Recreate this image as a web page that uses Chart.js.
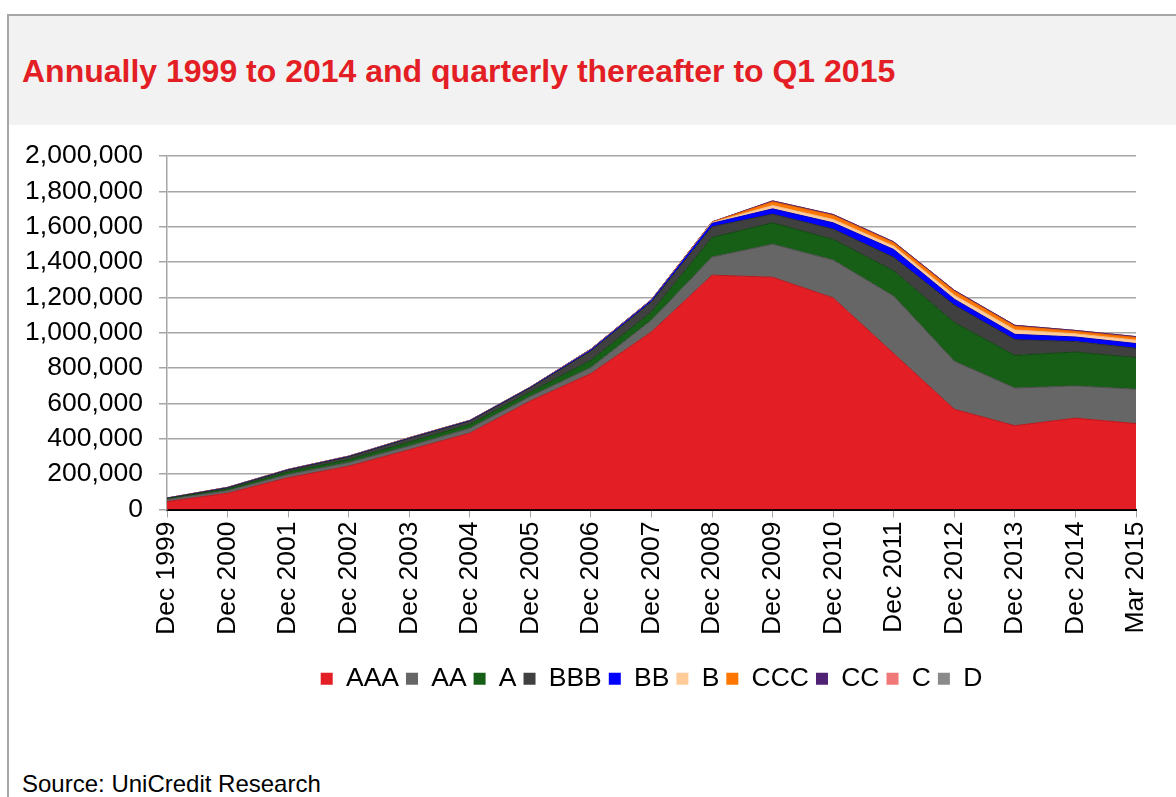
<!DOCTYPE html>
<html>
<head>
<meta charset="utf-8">
<script src="https://cdn.jsdelivr.net/npm/chart.js@4.4.1/dist/chart.umd.min.js"></script>
<style>
  body { margin: 0; background: #fff; font-family: Arial, "Liberation Sans", sans-serif; overflow: hidden; }
  #frame { position: absolute; left: 7px; top: 14px; width: 1200px; height: 820px; border: 2px solid #a6a6a6; }
  #header { position: absolute; left: 9px; top: 16px; width: 1200px; height: 109px; background: #f2f2f2; }
  #title { position: absolute; left: 22px; top: 53px; line-height: 36px; font-size: 32px; font-weight: bold; color: #e31e24; white-space: nowrap; }
  #source { position: absolute; left: 22px; top: 772px; line-height: 24px; font-size: 24px; color: #000; white-space: nowrap; }
  #chart { position: absolute; left: 0; top: 0; }
</style>
</head>
<body>
<div id="frame"></div>
<div id="header"></div>
<div id="title">Annually 1999 to 2014 and quarterly thereafter to Q1 2015</div>
<div id="source">Source: UniCredit Research</div>
<canvas id="chart" width="1176" height="797"></canvas>
<script>
// Chart.js - stacked area, outstanding volume by rating
const labels = ['Dec 1999', 'Dec 2000', 'Dec 2001', 'Dec 2002', 'Dec 2003',
                'Dec 2004', 'Dec 2005', 'Dec 2006', 'Dec 2007', 'Dec 2008',
                'Dec 2009', 'Dec 2010', 'Dec 2011', 'Dec 2012', 'Dec 2013',
                'Dec 2014', 'Mar 2015'];

const aaa = [45000, 92000, 180000, 245000, 338000, 432000, 614000, 769000, 1005000,
             1326000, 1314000, 1197000, 882000, 567000, 474000, 517000, 486000];
const aa  = [12000, 14000, 18000, 21000, 21000, 27000, 26000, 34000, 66000,
             102000, 187000, 214000, 325000, 272000, 213000, 182000, 194000];
const a   = [4000, 9000, 15000, 16000, 22000, 23000, 25000, 41000, 47000,
             111000, 121000, 117000, 143000, 219000, 185000, 192000, 179000];
const bbb = [2000, 7000, 10000, 16000, 21000, 18000, 23000, 53000, 57000,
             61000, 49000, 58000, 76000, 98000, 89000, 59000, 53000];
const bb  = [1000, 1500, 2000, 2000, 2000, 2500, 3000, 7000, 9000,
             19000, 30000, 36000, 45000, 34000, 30000, 26000, 27000];
const b   = [500, 1000, 1000, 1000, 1500, 1000, 1000, 2000, 2000,
             5000, 19000, 19000, 19000, 22000, 25000, 18000, 19000];
const ccc = [300, 500, 500, 500, 500, 500, 500, 1000, 1000,
             2000, 21000, 23000, 19000, 23000, 21000, 14000, 15000];
const cc  = [200, 500, 500, 500, 500, 500, 500, 1000, 1000,
             1000, 5000, 5000, 5000, 5000, 5000, 5000, 5000];
const c   = [0, 0, 0, 0, 0, 0, 0, 0, 0, 0, 0, 0, 0, 0, 0, 0, 0];
const d   = [0, 0, 0, 0, 0, 0, 0, 0, 0, 0, 0, 0, 0, 0, 0, 0, 0];

const yTicks = [0, 200000, 400000, 600000, 800000, 1000000,
                1200000, 1400000, 1600000, 1800000, 2000000];

const series = [
  ['AAA', aaa, '#e31e24', '#b5181d'],
  ['AA',  aa,  '#666666', '#4d4d4d'],
  ['A',   a,   '#175f17', '#104410'],
  ['BBB', bbb, '#404040', '#2a2a2a'],
  ['BB',  bb,  '#0000ff', '#0000c0'],
  ['B',   b,   '#ffcc99', '#f0b880'],
  ['CCC', ccc, '#ff7700', '#e06000'],
  ['CC',  cc,  '#4f2274', '#4f2274'],
  ['C',   c,   '#f07878', '#d06060'],
  ['D',   d,   '#8a8a8a', '#707070']
];

const font = { family: 'Arial, "Liberation Sans", sans-serif', size: 26.5 };

const chart = new Chart(document.getElementById('chart'), {
  type: 'line',
  data: {
    labels: labels,
    datasets: series.map((s, i) => ({
      label: s[0],
      data: s[1],
      backgroundColor: s[2],
      borderColor: s[3],
      borderWidth: 1,
      fill: i === 0 ? 'origin' : '-1',
      pointRadius: 0,
      tension: 0
    }))
  },
  options: {
    responsive: false,
    animation: false,
    layout: { padding: { top: 156, bottom: 95, left: 0, right: 40 } },
    plugins: {
      tooltip: { enabled: false },
      legend: {
        position: 'bottom',
        fullSize: false,
        labels: {
          font: font,
          color: '#000',
          boxWidth: 12,
          boxHeight: 12,
          padding: 7,
          generateLabels: (ch) => ch.data.datasets.map((ds, i) => ({
            text: ds.label,
            fillStyle: ds.backgroundColor,
            strokeStyle: ds.backgroundColor,
            lineWidth: 0,
            datasetIndex: i
          }))
        }
      }
    },
    scales: {
      x: {
        offset: false,
        grid: { drawOnChartArea: false, drawTicks: true, tickLength: 8, color: '#a6a6a6' },
        border: { color: '#000', width: 2 },
        ticks: { font: font, color: '#000', maxRotation: 90, minRotation: 90, autoSkip: false, padding: 4 },
        afterFit: (s) => { s.height = 149; }
      },
      y: {
        stacked: true,
        min: 0,
        max: 2000000,
        afterBuildTicks: (s) => { s.ticks = yTicks.map(v => ({ value: v })); },
        grid: { color: '#a6a6a6', lineWidth: 1.5, tickLength: 8 },
        border: { color: '#a6a6a6', width: 1.5 },
        ticks: {
          font: font,
          color: '#000',
          padding: 16,
          callback: (v) => Number(v).toLocaleString('en-US')
        },
        afterFit: (s) => { s.width = 167; }
      }
    }
  }
});
</script>
</body>
</html>
